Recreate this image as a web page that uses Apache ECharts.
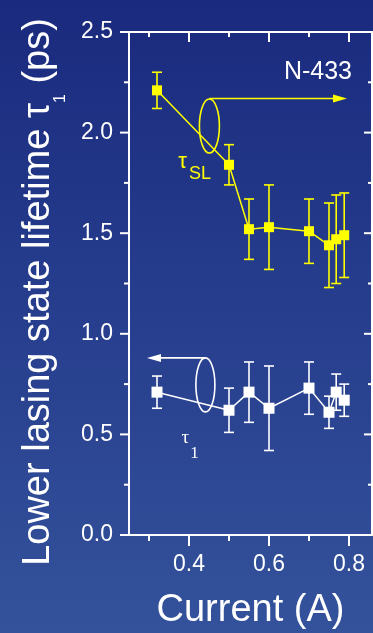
<!DOCTYPE html>
<html><head><meta charset="utf-8">
<script src="https://cdn.jsdelivr.net/npm/echarts@6/dist/echarts.min.js"></script>
<style>
html,body{margin:0;padding:0;}
#c{width:373px;height:633px;background:linear-gradient(to bottom,#1a2a7e 0%,#28408f 55%,#34529b 100%);}
</style>
</head><body><div id="c"></div>
<script>
// ---- data ----
const current   = [0.32, 0.50, 0.55, 0.60, 0.70, 0.75, 0.768, 0.788];
const tauSL     = [2.21, 1.84, 1.52, 1.53, 1.51, 1.44, 1.47, 1.49];
const tauSLErr  = [0.09, 0.10, 0.15, 0.21, 0.16, 0.21, 0.22, 0.21];
const tau1      = [0.71, 0.62, 0.71, 0.63, 0.73, 0.61, 0.71, 0.67];
const tau1Err   = [0.08, 0.11, 0.15, 0.21, 0.13, 0.08, 0.09, 0.08];
const xMajorTicks = [0.4, 0.6, 0.8];
const xMinorTicks = [0.3, 0.5, 0.7];
const yMajorTicks = [0, 0.5, 1.0, 1.5, 2.0, 2.5];
const yMinorTicks = [0.25, 0.75, 1.25, 1.75, 2.25];
const yTickLabels = ['0.0', '0.5', '1.0', '1.5', '2.0', '2.5'];

const YEL = '#ffff00', WHT = '#ffffff', TICKC = '#ffffff';
const FONT = 'Liberation Sans, Arial, sans-serif';
const SERIF = 'Liberation Serif, Times New Roman, serif';
const XMIN = 0.25, XMAX = 0.8575, YMIN = 0, YMAX = 2.5;

function errData(xs, ys, es) { return xs.map((x, i) => [x, ys[i] - es[i], ys[i] + es[i]]); }
function pairs(xs, ys) { return xs.map((x, i) => [x, ys[i]]); }

function errRender(color) {
  return function (params, api) {
    const x = api.value(0);
    const a = api.coord([x, api.value(2)]);
    const b = api.coord([x, api.value(1)]);
    const hw = 5;
    const st = { stroke: color, lineWidth: 1.6 };
    return { type: 'group', children: [
      { type: 'line', shape: { x1: a[0], y1: a[1], x2: b[0], y2: b[1] }, style: st },
      { type: 'line', shape: { x1: a[0] - hw, y1: a[1], x2: a[0] + hw, y2: a[1] }, style: st },
      { type: 'line', shape: { x1: b[0] - hw, y1: b[1], x2: b[0] + hw, y2: b[1] }, style: st }
    ]};
  };
}

// axis ticks on all four sides, placed through the axes' scales
function tickRender(params, api) {
  const ch = [];
  function seg(x1, y1, x2, y2) {
    ch.push({ type: 'line', shape: { x1: x1, y1: y1, x2: x2, y2: y2 }, style: { stroke: TICKC, lineWidth: 2 } });
  }
  xMajorTicks.forEach(function (v) {
    const b = api.coord([v, YMIN]), t = api.coord([v, YMAX]);
    seg(b[0], b[1], b[0], b[1] + 11);
    seg(t[0], t[1], t[0], t[1] + 10);
  });
  xMinorTicks.forEach(function (v) {
    const b = api.coord([v, YMIN]), t = api.coord([v, YMAX]);
    seg(b[0], b[1], b[0], b[1] + 6);
    seg(t[0], t[1], t[0], t[1] + 5);
  });
  yMajorTicks.forEach(function (v) {
    const l = api.coord([XMIN, v]), r = api.coord([XMAX, v]);
    seg(l[0], l[1], l[0] - 9, l[1]);
    seg(r[0], r[1], r[0] - 8, r[1]);
  });
  yMinorTicks.forEach(function (v) {
    const l = api.coord([XMIN, v]), r = api.coord([XMAX, v]);
    seg(l[0], l[1], l[0] - 5, l[1]);
    seg(r[0], r[1], r[0] - 4, r[1]);
  });
  return { type: 'group', children: ch };
}

function annotRender(params, api) {
  const ch = [];
  const yc = api.coord([0.451, 2.035]);
  const yTip = api.coord([0.795, 0])[0];
  ch.push({ type: 'ellipse', shape: { cx: yc[0], cy: yc[1] + 0.5, rx: 10, ry: 27 }, style: { fill: 'none', stroke: YEL, lineWidth: 1.6 } });
  const yTop = yc[1] - 27;
  ch.push({ type: 'line', shape: { x1: yc[0], y1: yTop, x2: yTip - 12, y2: yTop }, style: { stroke: YEL, lineWidth: 1.6 } });
  ch.push({ type: 'polygon', shape: { points: [[yTip, yTop], [yTip - 14, yTop - 4], [yTip - 14, yTop + 4]] }, style: { fill: YEL } });
  const wc = api.coord([0.441, 0.746]);
  const wTip = api.coord([0.295, 0])[0];
  ch.push({ type: 'ellipse', shape: { cx: wc[0], cy: wc[1], rx: 9.5, ry: 27 }, style: { fill: 'none', stroke: WHT, lineWidth: 1.6 } });
  const wTop = wc[1] - 27;
  ch.push({ type: 'line', shape: { x1: wc[0], y1: wTop, x2: wTip + 12, y2: wTop }, style: { stroke: WHT, lineWidth: 1.6 } });
  ch.push({ type: 'polygon', shape: { points: [[wTip, wTop], [wTip + 14, wTop - 4], [wTip + 14, wTop + 4]] }, style: { fill: WHT } });
  const n = api.coord([0.8075, 2.303]);
  ch.push({ type: 'text', x: n[0], y: n[1], style: { text: 'N-433', fill: WHT, font: '25px ' + FONT, align: 'right', verticalAlign: 'middle' } });
  const t1 = api.coord([0.384, 1.856]);
  ch.push({ type: 'text', x: t1[0], y: t1[1], style: { text: 'τ', fill: YEL, font: '22px ' + FONT, align: 'center', verticalAlign: 'middle' } });
  const t2 = api.coord([0.4275, 1.793]);
  ch.push({ type: 'text', x: t2[0], y: t2[1], style: { text: 'SL', fill: YEL, font: '18px ' + FONT, align: 'center', verticalAlign: 'middle' } });
  const t3 = api.coord([0.3905, 0.4826]);
  ch.push({ type: 'text', x: t3[0], y: t3[1], style: { text: 'τ', fill: WHT, font: '19px ' + SERIF, align: 'center', verticalAlign: 'middle' } });
  const t4 = api.coord([0.4138, 0.403]);
  ch.push({ type: 'text', x: t4[0], y: t4[1], style: { text: '1', fill: WHT, font: '17px ' + SERIF, align: 'center', verticalAlign: 'middle' } });
  return { type: 'group', children: ch };
}

function aLine() { return { show: true, onZero: false, lineStyle: { color: WHT, width: 2 } }; }

const option = {
  animation: false,
  grid: { left: 129, right: 1, top: 32, bottom: 98, outerBoundsMode: 'none' },
  xAxis: [
    { type: 'value', position: 'bottom', min: XMIN, max: XMAX,
      axisLine: aLine(), axisTick: { show: false },
      axisLabel: { show: true, customValues: xMajorTicks, color: WHT, fontSize: 23, fontFamily: FONT, margin: 18, formatter: v => v.toFixed(1) },
      splitLine: { show: false },
      name: 'Current (A)', nameLocation: 'middle', nameGap: 57,
      nameTextStyle: { color: WHT, fontSize: 38, fontFamily: FONT } },
    { type: 'value', position: 'top', min: XMIN, max: XMAX,
      axisLine: aLine(), axisTick: { show: false },
      axisLabel: { show: false }, splitLine: { show: false } }
  ],
  yAxis: [
    { type: 'value', position: 'left', min: YMIN, max: YMAX, interval: 0.5,
      axisLine: aLine(), axisTick: { show: false },
      axisLabel: { show: true, color: WHT, fontSize: 23, fontFamily: FONT, margin: 16, formatter: (v) => yTickLabels[Math.round(v / 0.5)] },
      splitLine: { show: false },
      name: '{a|Lower lasing state lifetime τ}{s|1}{e| (ps)}',
      nameLocation: 'middle', nameRotate: 90, nameGap: 69,
      nameTextStyle: { color: WHT, fontFamily: FONT,
        rich: {
          a: { fontSize: 38, lineHeight: 40, verticalAlign: 'top', color: WHT, fontFamily: FONT },
          s: { fontSize: 16, lineHeight: 20, padding: [33, 0, 0, 0], verticalAlign: 'top', color: WHT, fontFamily: FONT },
          e: { fontSize: 38, lineHeight: 40, verticalAlign: 'top', color: WHT, fontFamily: FONT, padding: [0, 17, 0, 0] }
        } } },
    { type: 'value', position: 'right', min: YMIN, max: YMAX, interval: 0.5,
      axisLine: aLine(), axisTick: { show: false },
      axisLabel: { show: false }, splitLine: { show: false } }
  ],
  series: [
    { type: 'custom', name: 'ticks', renderItem: tickRender, data: [[0.5, 1]], z: 5, silent: true, clip: false },
    { type: 'custom', name: 'tauSL err', renderItem: errRender(YEL), data: errData(current, tauSL, tauSLErr), z: 2 },
    { type: 'line', name: 'tauSL', data: pairs(current, tauSL), symbol: 'rect', symbolSize: 10,
      lineStyle: { color: YEL, width: 1.5 }, itemStyle: { color: YEL }, z: 3 },
    { type: 'custom', name: 'tau1 err', renderItem: errRender(WHT), data: errData(current, tau1, tau1Err), z: 2 },
    { type: 'line', name: 'tau1', data: pairs(current, tau1), symbol: 'rect', symbolSize: 11,
      lineStyle: { color: WHT, width: 1.5 }, itemStyle: { color: WHT }, z: 3 },
    { type: 'custom', name: 'annotations', renderItem: annotRender, data: [[0.5, 1]], z: 4, silent: true }
  ]
};

const chart = echarts.init(document.getElementById('c'));
chart.setOption(option);
</script>
</body></html>
